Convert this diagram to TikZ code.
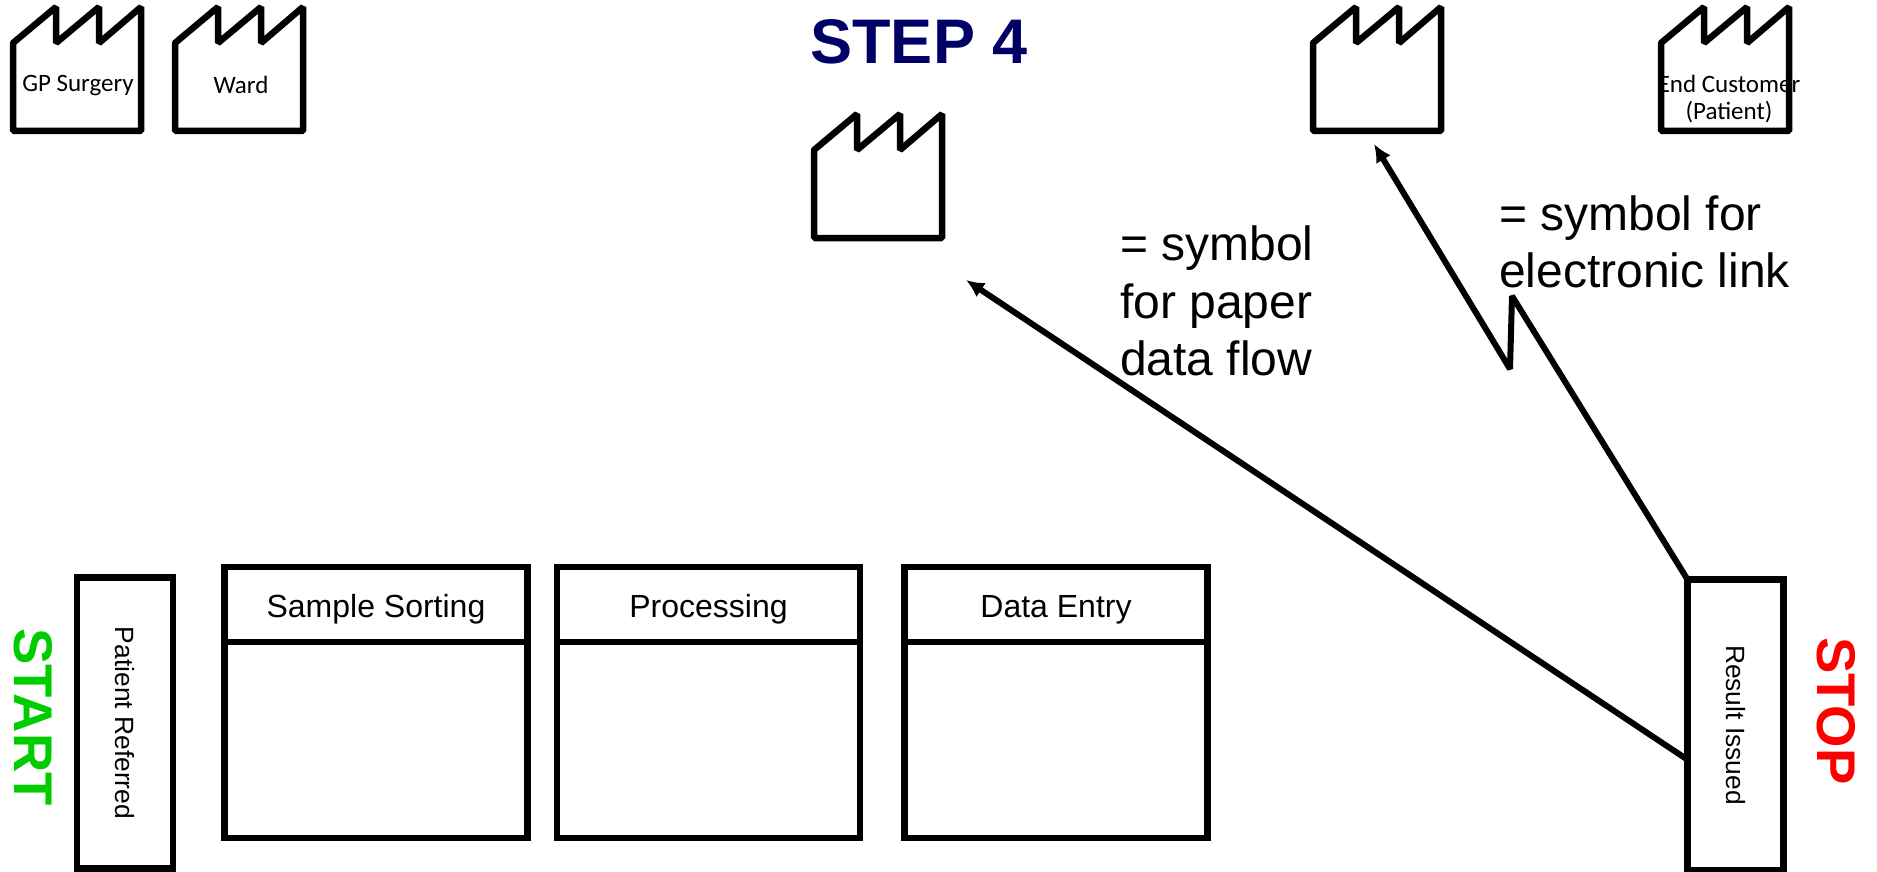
\documentclass[tikz,border=0pt]{standalone}
\usepackage{fontspec}
\setmainfont{Liberation Sans}
\newfontfamily\factoryfont{Carlito}
\usetikzlibrary{positioning,arrows.meta}
\definecolor{startgreen}{RGB}{0,204,0}
\definecolor{stepblue}{RGB}{0,0,102}
\tikzset{
  box/.style={draw,line width=6.5pt,rectangle,inner sep=0pt,outer sep=0pt},
  factory/.style={line width=6.5pt,line join=bevel},
  link/.style={line width=6pt,line join=bevel,-{Latex[length=18pt,width=17pt]}},
  flabel/.style={font=\factoryfont\fontsize{25}{27}\selectfont,align=center},
  title/.style={box,minimum width=303pt,minimum height=75pt,text height=33pt,text depth=7pt,font=\fontsize{32}{38}\selectfont},
  body/.style={box,minimum width=303pt,minimum height=196pt},
  endbox/.style={box,rotate=-90,minimum width=291pt,minimum height=96pt,font=\fontsize{26.4}{30}\selectfont},
  endword/.style={rotate=-90,font=\bfseries\fontsize{54.5}{60}\selectfont},
  note/.style={align=left,inner sep=0pt,font=\fontsize{48}{57.5}\selectfont}
}
\begin{document}
\begin{tikzpicture}[x=1pt,y=-1pt]
  \useasboundingbox (0,0) rectangle (1877,872);
  % factories
  \foreach \fx/\fy in {13/7, 175/7, 814/114, 1313/7, 1661/7}
    \draw [factory] (\fx,\fy+124) -- (\fx,\fy+36) -- (\fx+43,\fy) -- (\fx+43,\fy+36)
      -- (\fx+86,\fy) -- (\fx+86,\fy+36) -- (\fx+128,\fy) -- (\fx+128,\fy+124) -- cycle;
  \node [flabel] (gp) at (78,86) {GP Surgery};
  \node [flabel] (ward) at (241,85) {Ward};
  \node [flabel] (customer) at (1729,99.5) {End Customer\\(Patient)};
  \node [font=\bfseries\fontsize{63}{70}\selectfont,text=stepblue] (stepword) at (919,42) {STEP 4};
  % process boxes
  \foreach \name/\px/\ptext in {sorting/376/Sample Sorting, processing/708.5/Processing, entry/1056/Data Entry} {
    \node [title] (\name) at (\px,604.5) {\ptext};
    \node [body,below=0pt of \name] (\name body) {};
  }
  % ends
  \node [endbox] (patient) at (125,723) {Patient Referred};
  \node [endbox] (result) at (1735.5,725) {Result Issued};
  \node [endword,text=startgreen] (start) at (33,717) {START};
  \node [endword,text=red] (stop) at (1836,711) {STOP};
  % notes
  \node [note,anchor=west] (paper) at (1120,301) {= symbol\\for paper\\data flow};
  \node [note,anchor=west] (electronic) at (1499,242) {= symbol for\\electronic link};
  % links
  \coordinate (papertip) at (966,280);
  \coordinate (paperout) at (1688,760);
  \coordinate (zigtop) at (1512,296);
  \coordinate (zigbot) at (1510,369);
  \coordinate (zigtip) at (1374,144);
  \draw [link] (paperout) -- (papertip);
  \draw [link] (result.south west) -- (zigtop) -- (zigbot) -- (zigtip);
\end{tikzpicture}
\end{document}
